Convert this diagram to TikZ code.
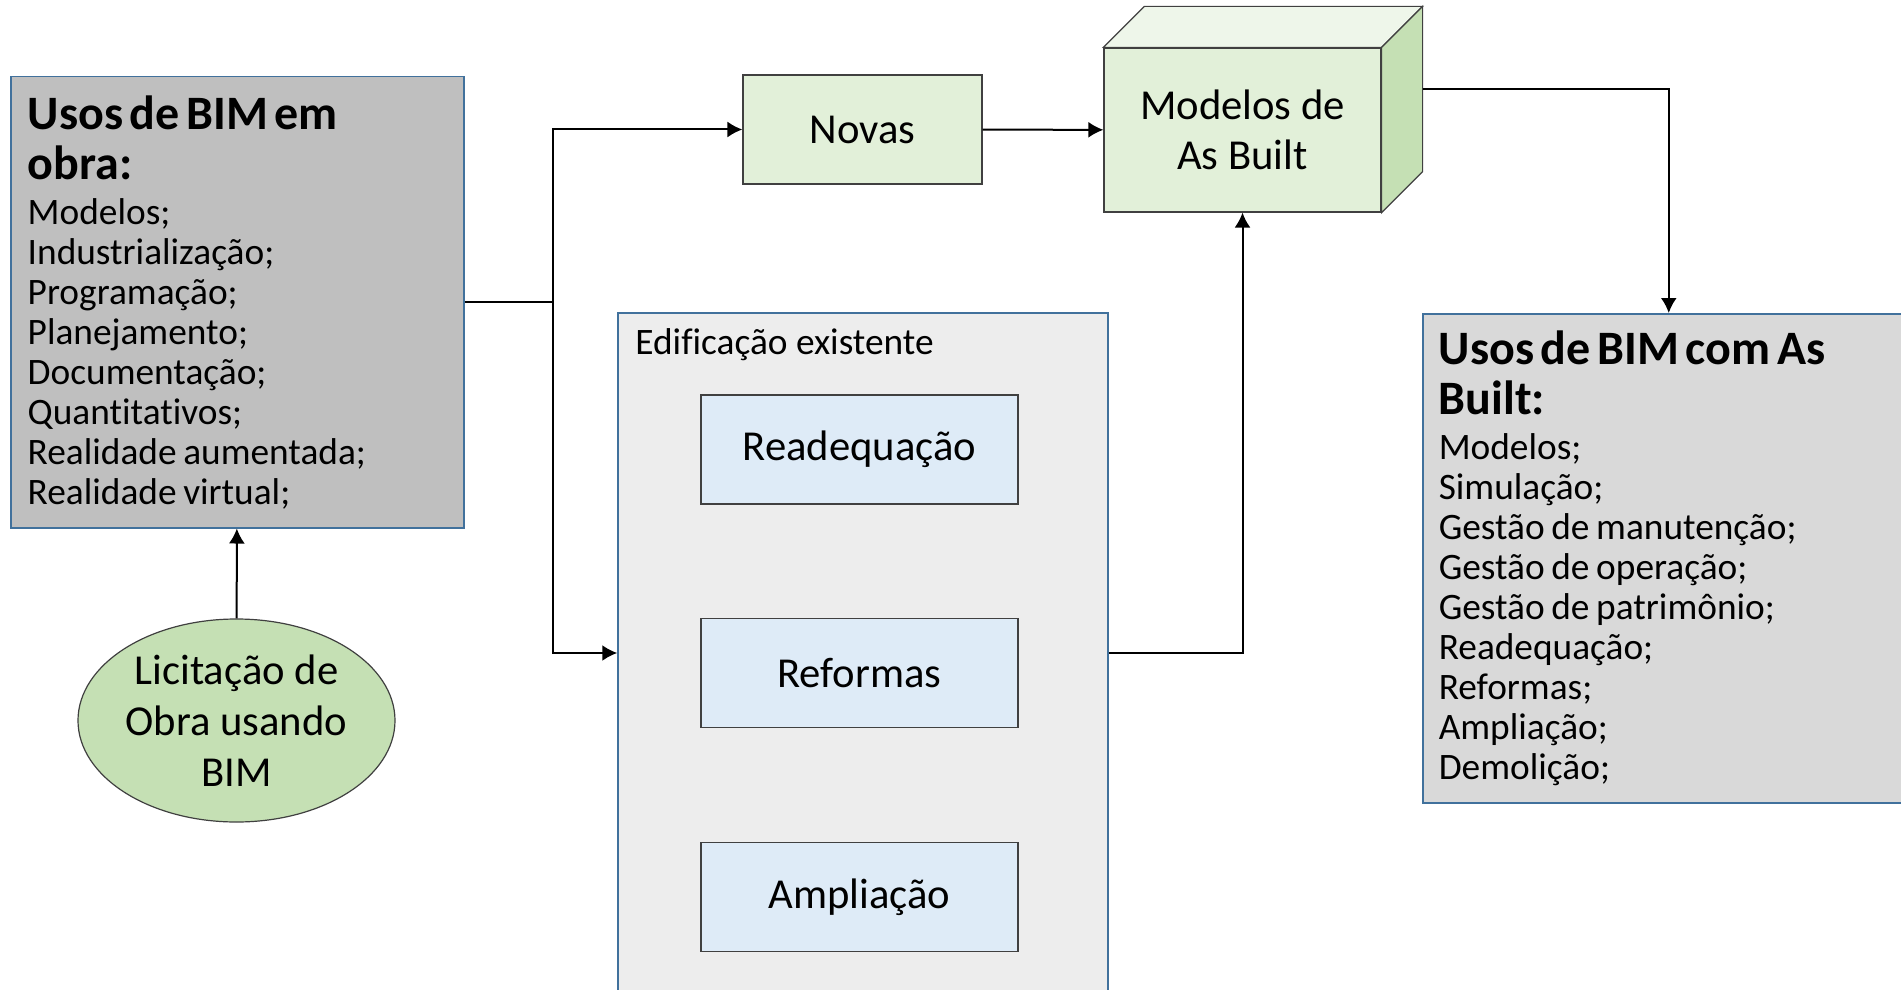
\documentclass[tikz,border=0pt]{standalone}
\usepackage{fontspec}
\setmainfont{Carlito}[Ligatures={NoCommon}]
\usetikzlibrary{arrows.meta, shapes.geometric, calc}
\definecolor{cinzaobra}{HTML}{BFBFBF}
\definecolor{cinzausos}{HTML}{D9D9D9}
\definecolor{cinzaexist}{HTML}{EDEDED}
\definecolor{bordaazul}{HTML}{41719C}
\definecolor{bordacinza}{HTML}{404040}
\definecolor{azulclaro}{HTML}{DEEBF7}
\definecolor{verdeclaro}{HTML}{E2F0D9}
\definecolor{verdetopo}{HTML}{EEF6EA}
\definecolor{verdemedio}{HTML}{C5E0B4}
\tikzset{
  listbox/.style={draw=bordaazul, line width=0.75pt, anchor=north west, align=left, inner ysep=0pt},
  etapa/.style={draw=bordacinza, line width=0.6pt, minimum width=158.5pt, minimum height=54.5pt, font=\fontsize{21.33}{25}\selectfont},
  liga/.style={line width=1pt},
  seta/.style={line width=1pt, -{Latex[length=7.5pt,width=8pt]}},
}
\newcommand{\tituloBIM}{\fontsize{24}{25}\selectfont\bfseries}
\newcommand{\corpoBIM}{\fontsize{18.67}{20}\selectfont}
\begin{document}
\begin{tikzpicture}[x=0.5pt, y=-0.5pt]
\useasboundingbox (0,0) rectangle (1901,990);
\node[listbox, fill=cinzaobra, minimum width=226.5pt, minimum height=225.5pt, text width=209.5pt, inner xsep=8.5pt] (obra) at (10,76)
{{\tituloBIM Usos de BIM em\\ obra:\par}\vskip2.5pt
\corpoBIM Modelos;\\ Industrialização;\\ Programação;\\ Planejamento;\\ Documentação;\\ Quantitativos;\\ Realidade aumentada;\\ Realidade virtual;\par};
\node[ellipse, draw=bordacinza, line width=0.6pt, fill=verdemedio, minimum width=158.5pt, minimum height=101.5pt, inner sep=0pt, align=center, font=\fontsize{21.33}{25.5}\selectfont] (lic) at (236.5,720.5) {Licitação de\\ Obra usando\\ BIM};
\node[etapa, fill=verdeclaro, minimum width=119.5pt] (novas) at (862.5,129.5) {Novas};
\node[draw=bordaazul, line width=0.75pt, fill=cinzaexist, minimum width=245pt, minimum height=340pt] (exist) at (863,653) {};
\node[anchor=base west, inner sep=0pt, font=\fontsize{18.67}{20}\selectfont] (rotulo) at (635,354) {Edificação existente};
\node[etapa, fill=azulclaro] (readeq) at (859.5,449.5) {Readequação};
\node[etapa, fill=azulclaro] (reform) at (859.5,673) {Reformas};
\node[etapa, fill=azulclaro] (amplia) at (859.5,897) {Ampliação};
\node[draw=bordacinza, line width=0.6pt, fill=verdeclaro, minimum width=138.5pt, minimum height=82pt, align=center, font=\fontsize{21.33}{25}\selectfont] (asb) at (1242.5,130) {Modelos de\\ As Built};
\filldraw[draw=bordacinza, line width=0.6pt, fill=verdetopo] (asb.north west) -- ++(41,-41) -- ($(asb.north east)+(41,-41)$) -- (asb.north east) -- cycle;
\filldraw[draw=bordacinza, line width=0.6pt, fill=verdemedio] (asb.north east) -- ++(41,-41) -- ($(asb.south east)+(41,-41)$) -- (asb.south east) -- cycle;
\coordinate (fundo) at ($(asb.east)+(41,-41)$);
\node[listbox, fill=cinzausos, minimum width=246pt, minimum height=244.5pt, text width=230pt, inner xsep=8pt] (usos) at (1422,313)
{{\tituloBIM Usos de BIM com As\\ Built:\par}\vskip2.5pt
\corpoBIM Modelos;\\ Simulação;\\ Gestão de manutenção;\\ Gestão de operação;\\ Gestão de patrimônio;\\ Readequação;\\ Reformas;\\ Ampliação;\\ Demolição;\par};
\coordinate (split) at ($(obra.east)+(88,0)$);
\draw[liga] (obra.east) -- (split);
\draw[seta] (split) |- (novas.west);
\draw[seta] (split) |- (exist.west);
\draw[seta] (novas) -- (asb);
\draw[seta] (exist.east) -| (asb.south);
\draw[seta] (fundo) -| (usos.north);
\draw[seta] (lic) -- (obra);
\end{tikzpicture}
\end{document}
